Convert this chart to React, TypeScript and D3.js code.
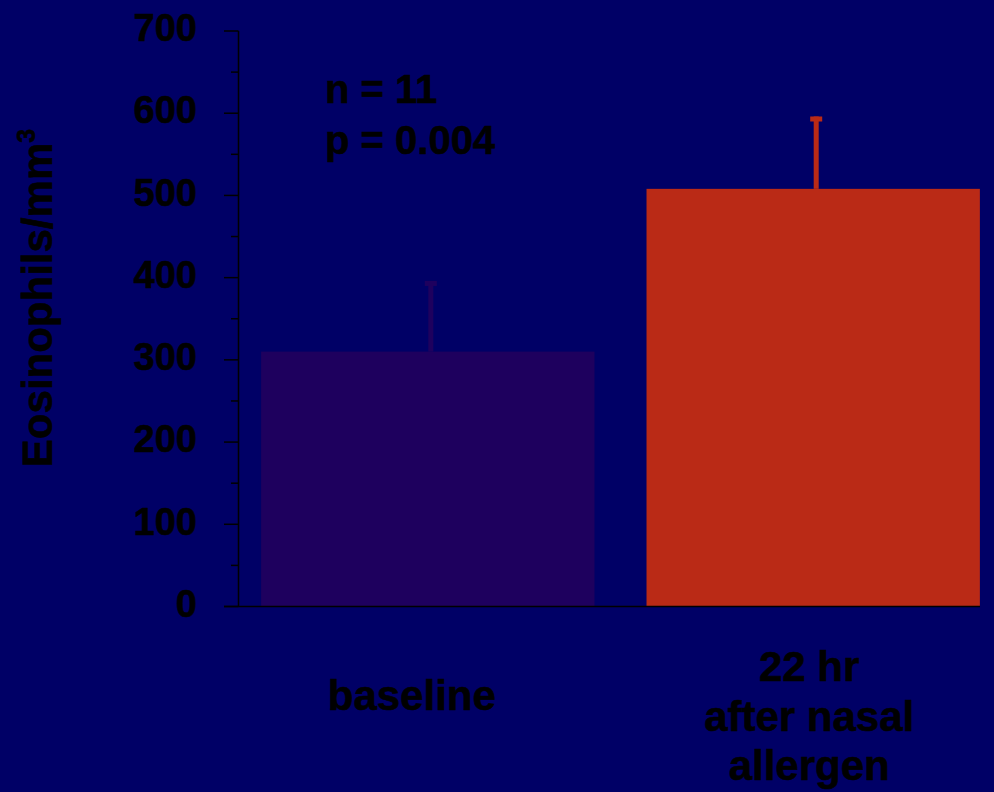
import React from "react";
import * as d3 from "d3";

const categories = ["baseline", "22 hr\nafter nasal\nallergen"];
const means = [310, 508];
const errors = [86, 88];
const barColors = ["#1e005e", "#ba2a16"];
const yTicks = [0, 100, 200, 300, 400, 500, 600, 700];
const minorTicks = [50, 150, 250, 350, 450, 550, 650];
const annotations = ["n = 11", "p = 0.004"];

const W = 994;
const H = 792;
const FONT = "'Liberation Sans', Arial, Helvetica, sans-serif";

export default function App() {
  const y = d3.scaleLinear().domain([0, 700]).range([606.5, 31]);
  const x = d3
    .scaleBand<number>()
    .domain(d3.range(categories.length))
    .range([238, 1003])
    .paddingInner(0.135)
    .paddingOuter(0.06);
  const axisX = 238.5;

  return (
    <svg
      width={W}
      height={H}
      style={{ position: "absolute", left: 0, top: 0, display: "block" }}
      fontFamily={FONT}
    >
      <rect x={0} y={0} width={W} height={H} fill="#000066" />
      {/* bars */}
      {means.map((v, i) => (
        <rect
          key={"b" + i}
          x={x(i)!}
          y={y(v)}
          width={x.bandwidth()}
          height={y(0) - y(v)}
          fill={barColors[i]}
        />
      ))}
      {/* error bars */}
      {means.map((v, i) => {
        const cx = x(i)! + x.bandwidth() / 2 + 3;
        const top = y(v + errors[i]);
        return (
          <g key={"e" + i} fill={barColors[i]}>
            <rect x={cx - 2.5} y={top} width={5} height={y(v) - top} />
            <rect x={cx - 6} y={top} width={12} height={5} />
          </g>
        );
      })}
      {/* axes */}
      <line x1={axisX} x2={axisX} y1={y(700)} y2={y(0)} stroke="#000" strokeWidth={1.5} />
      <line x1={224} x2={980} y1={y(0)} y2={y(0)} stroke="#000" strokeWidth={1.5} />
      {yTicks.map((t) => (
        <g key={"t" + t}>
          <line x1={224} x2={axisX} y1={y(t)} y2={y(t)} stroke="#000" strokeWidth={1.5} />
          <text
            x={197}
            y={y(t)}
            dy="0.27em"
            textAnchor="end"
            fontSize={38}
            fontWeight="bold"
            fill="#000"
            stroke="#000"
            strokeWidth={0.6}
          >
            {t}
          </text>
        </g>
      ))}
      {minorTicks.map((t) => (
        <line key={"m" + t} x1={231} x2={axisX} y1={y(t)} y2={y(t)} stroke="#000" strokeWidth={1.5} />
      ))}
      {/* y label */}
      <text
        transform="translate(52,298) rotate(-90)"
        textAnchor="middle"
        fontSize={42}
        fontWeight="bold"
        fill="#000"
        stroke="#000"
        strokeWidth={0.6}
      >
        Eosinophils/mm
        <tspan fontSize={25} dy={-17}>3</tspan>
      </text>
      {/* annotations */}
      {annotations.map((a, i) => (
        <text
          key={"a" + i}
          x={325}
          y={103 + i * 51}
          fontSize={40}
          fontWeight="bold"
          fill="#000"
          stroke="#000"
          strokeWidth={0.6}
        >
          {a}
        </text>
      ))}
      {/* category labels */}
      {categories.map((c, i) => {
        const lines = c.split("\n");
        const cx = x(i)! + x.bandwidth() / 2 - 16 + i * 12;
        const y0 = lines.length === 1 ? 710 : 681;
        return (
          <text
            key={"c" + i}
            textAnchor="middle"
            fontSize={42}
            fontWeight="bold"
            fill="#000"
            stroke="#000"
            strokeWidth={0.6}
          >
            {lines.map((l, j) => (
              <tspan key={j} x={cx} y={y0 + j * 49.5}>
                {l}
              </tspan>
            ))}
          </text>
        );
      })}
    </svg>
  );
}
